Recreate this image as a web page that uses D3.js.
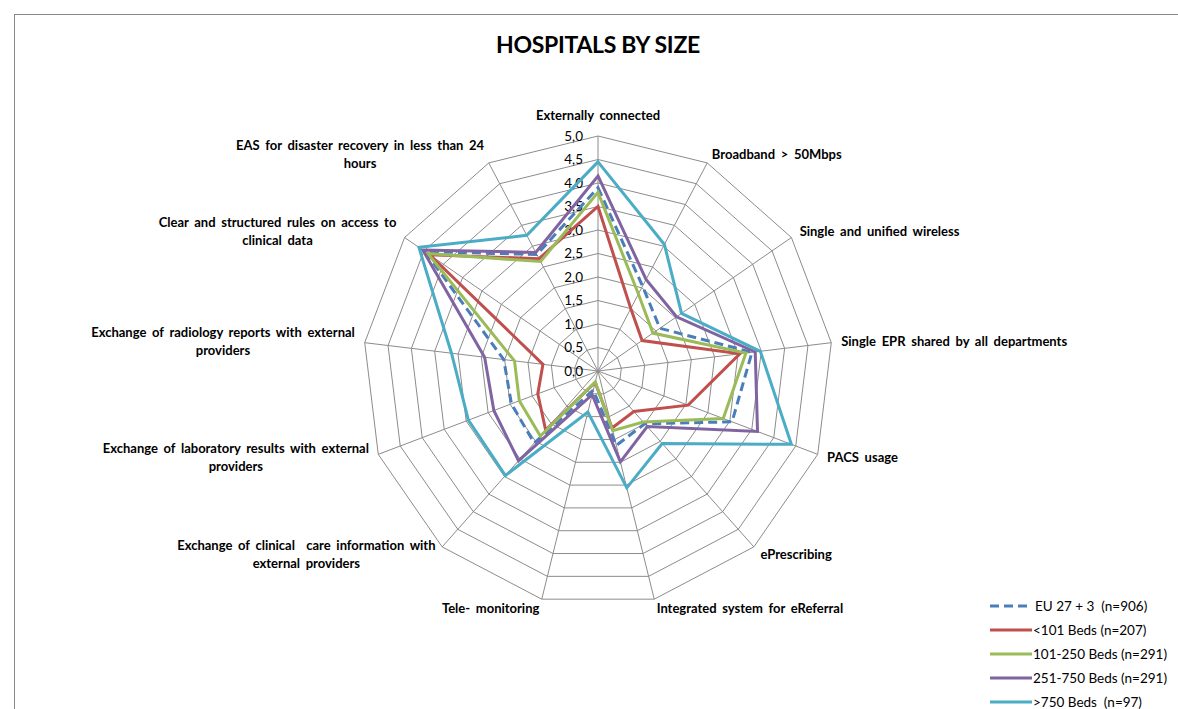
<!DOCTYPE html>
<html>
<head>
<meta charset="utf-8">
<script src="https://cdn.jsdelivr.net/npm/d3@7"></script>
<style>
  body { margin: 0; background: #fff; }
  svg text { font-family: Lato, "Open Sans", sans-serif; fill: #000; white-space: pre; }
</style>
</head>
<body>
<div id="chart"></div>
<script>
// axis categories, clockwise from the top
const categories = [
    ["Externally connected"],
    ["Broadband > 50Mbps"],
    ["Single and unified wireless"],
    ["Single EPR shared by all departments"],
    ["PACS usage"],
    ["ePrescribing"],
    ["Integrated system for eReferral"],
    ["Tele- monitoring"],
    ["Exchange of clinical  care information with", "external providers"],
    ["Exchange of laboratory results with external", "providers"],
    ["Exchange of radiology reports with external", "providers"],
    ["Clear and structured rules on access to", "clinical data"],
    ["EAS for disaster recovery in less than 24", "hours"]
];

const seriesNames = ["EU 27 + 3  (n=906)", "<101 Beds (n=207)", "101-250 Beds (n=291)", "251-750 Beds (n=291)", ">750 Beds  (n=97)"];

const euValues     = [3.90, 2.04, 1.60, 3.30, 3.05, 1.50, 1.63, 0.42, 2.05, 1.97, 2.02, 4.47, 2.80];
const small        = [3.50, 1.50, 1.14, 3.04, 2.05, 1.15, 1.25, 0.25, 1.68, 1.37, 1.18, 4.35, 2.70];
const medium       = [3.80, 1.85, 1.42, 3.17, 2.85, 1.45, 1.31, 0.24, 1.85, 1.79, 1.79, 4.40, 2.63];
const large        = [4.15, 2.20, 2.03, 3.37, 3.63, 1.58, 1.99, 0.52, 2.55, 2.37, 2.43, 4.53, 2.85];
const veryLarge    = [4.45, 3.04, 2.16, 3.48, 4.40, 2.06, 2.56, 0.90, 2.97, 2.95, 3.14, 4.63, 3.26];

const tickValues = [0, 0.5, 1, 1.5, 2, 2.5, 3, 3.5, 4, 4.5, 5];

const seriesValues = [euValues, small, medium, large, veryLarge];
const colors = ["#4a7ebb", "#c0504d", "#9bbb59", "#8064a2", "#4bacc6"];
const dashes = ["9,5", null, null, null, null];

const width = 1178, height = 709;
const cx = 598, cy = 371;

const svg = d3.select("#chart").append("svg")
    .attr("width", width)
    .attr("height", height);

// frame
svg.append("rect")
    .attr("x", 14.5).attr("y", 14.5)
    .attr("width", 1300).attr("height", 900)
    .attr("fill", "none")
    .attr("stroke", "#898989");

svg.append("text")
    .attr("x", cx).attr("y", 53)
    .attr("text-anchor", "middle")
    .style("font-size", "23px")
    .style("font-weight", "bold")
    .style("letter-spacing", "-0.3px")
    .text("HOSPITALS BY SIZE");

const g = svg.append("g").attr("transform", `translate(${cx},${cy})`);

const r = d3.scaleLinear().domain([0, 5]).range([0, 235]);
const angle = d3.scalePoint().domain(d3.range(categories.length + 1)).range([0, 2 * Math.PI]);

const pt = (i, v) => [r(v) * Math.sin(angle(i)), -r(v) * Math.cos(angle(i))];
const lineGen = d3.line();

// rings
g.selectAll(".ring")
    .data(tickValues.slice(1))
    .join("path")
    .attr("class", "ring")
    .attr("d", v => lineGen(categories.map((c, i) => pt(i, v))) + "Z")
    .attr("fill", "none")
    .attr("stroke", "#8c8c8c")
    .attr("stroke-width", 1);

// spokes
g.selectAll(".spoke")
    .data(categories)
    .join("line")
    .attr("class", "spoke")
    .attr("x1", 0).attr("y1", 0)
    .attr("x2", (c, i) => pt(i, 5)[0])
    .attr("y2", (c, i) => pt(i, 5)[1])
    .attr("stroke", "#8c8c8c")
    .attr("stroke-width", 1);

// tick labels
g.selectAll(".tick")
    .data(tickValues)
    .join("text")
    .attr("class", "tick")
    .attr("x", -15)
    .attr("y", v => -r(v))
    .attr("dy", "0.35em")
    .attr("text-anchor", "end")
    .style("font-size", "13.5px")
    .text(v => d3.format(".1f")(v).replace(".", ","));

// series
seriesValues.forEach((vals, s) => {
    g.append("path")
        .attr("d", lineGen(vals.map((v, i) => pt(i, v))) + "Z")
        .attr("fill", "none")
        .attr("stroke", colors[s])
        .attr("stroke-width", 3)
        .attr("stroke-linejoin", "miter")
        .attr("stroke-dasharray", dashes[s]);
});

// axis labels
const labelR = 245;
categories.forEach((lines, i) => {
    const a = angle(i);
    const x = labelR * Math.sin(a), y = -labelR * Math.cos(a);
    const t = g.append("text")
        .style("font-size", "13px")
        .style("font-weight", "bold")
        .style("word-spacing", "2.5px");
    const lh = 18;
    lines.forEach(l => {
        t.append("tspan").attr("text-anchor", "middle").text(l);
    });
    const spans = t.selectAll("tspan").nodes();
    const w = d3.max(spans, n => n.getComputedTextLength());
    let mx;
    if (i === 0) mx = x;
    else if (Math.sin(a) > 0) mx = x + w / 2;
    else mx = x - w / 2;
    const top = i === 0 ? y - 6 - (lines.length - 1) * lh : y - (lines.length - 1) * lh / 2;
    spans.forEach((n, k) => {
        d3.select(n).attr("x", mx).attr("y", top + k * lh).attr("dy", i === 0 ? 0 : "0.35em");
    });
});

// legend
const legend = svg.append("g").attr("transform", "translate(990,606)");
seriesNames.forEach((name, s) => {
    const row = legend.append("g").attr("transform", `translate(0,${s * 24})`);
    row.append("line")
        .attr("x1", 0).attr("x2", 42)
        .attr("stroke", colors[s])
        .attr("stroke-width", 3)
        .attr("stroke-dasharray", dashes[s]);
    row.append("text")
        .attr("x", s === 0 ? 45 : 43)
        .attr("dy", "0.35em")
        .style("font-size", "13.5px")
        .text(name);
});
</script>
</body>
</html>
